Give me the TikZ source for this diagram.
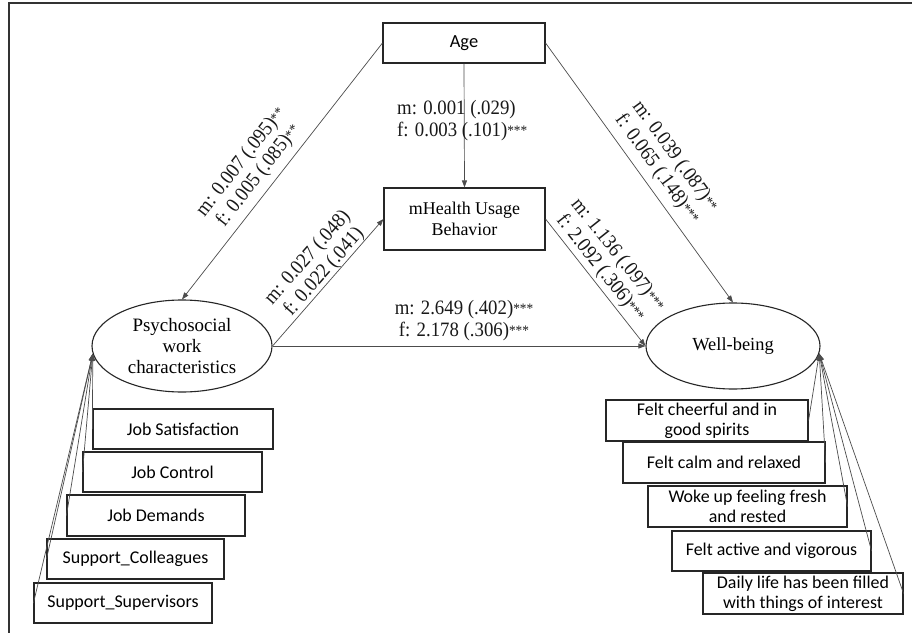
\documentclass[tikz,border=0pt]{standalone}
\usepackage{fontspec}
\setmainfont{Liberation Serif}
\newfontfamily\calfont{Carlito}
\newfontfamily\lblfont{Liberation Serif}[FakeStretch=0.92]
\usetikzlibrary{arrows.meta,shapes.geometric}
\newcommand\sig[1]{\raisebox{1bp}{\fontsize{14.5}{14.5}\selectfont #1}}
\tikzset{
  rbox/.style={draw=black!85, line width=1.1bp, inner sep=0pt, align=center},
  ind/.style={rbox, font=\calfont\fontsize{18}{20}\selectfont},
  lat/.style={ellipse, draw=black!85, line width=1.1bp, inner sep=0pt, align=center},
  conn/.style={draw=black!70, line width=0.7bp, -{Triangle[length=7bp,width=5bp]}},
  lbl/.style={font=\lblfont\fontsize{20.5}{22}\selectfont, inner sep=0pt, align=center, text=black!90},
}
\begin{document}
\begin{tikzpicture}[x=1bp,y=-1bp]
\fill[white] (0,0) rectangle (912,633);
\useasboundingbox (0,0) rectangle (912,633);
\draw[line width=1.5bp, black!80] (9,633) -- (9,3) -- (912,3);

% main nodes
\node[rbox, minimum width=162bp, minimum height=40bp, font=\calfont\fontsize{18.5}{20}\selectfont] (age) at (464,43) {Age};
\node[rbox, minimum width=161bp, minimum height=62bp, font=\fontsize{18}{20.5}\selectfont] (mh) at (464.5,219) {mHealth Usage\\Behavior};
\node[lat, minimum width=180bp, minimum height=92bp, font=\fontsize{19}{21.5}\selectfont] (psy) at (182,346) {Psychosocial\\work\\characteristics};
\node[lat, minimum width=174bp, minimum height=86bp, font=\fontsize{18.5}{20}\selectfont] (wb) at (733,346) {Well-being};

% indicators left
\node[ind, minimum width=180bp, minimum height=40bp] (jsat) at (183,429) {Job Satisfaction};
\node[ind, minimum width=179bp, minimum height=40bp] (jcon) at (172.5,472) {Job Control};
\node[ind, minimum width=178bp, minimum height=41bp] (jdem) at (156,515.5) {Job Demands};
\node[ind, minimum width=177bp, minimum height=40bp] (scol) at (135.5,559) {Support\_Colleagues};
\node[ind, minimum width=178bp, minimum height=40bp] (ssup) at (123,603) {Support\_Supervisors};

% indicators right
\node[ind, minimum width=202bp, minimum height=41bp] (fc) at (707,420.5) {Felt cheerful and in\\good spirits};
\node[ind, minimum width=202bp, minimum height=41bp] (fcalm) at (724,462.5) {Felt calm and relaxed};
\node[ind, minimum width=199bp, minimum height=41bp] (woke) at (747.5,506.5) {Woke up feeling fresh\\and rested};
\node[ind, minimum width=199bp, minimum height=40bp] (act) at (771.5,551) {Felt active and vigorous};
\node[ind, minimum width=200bp, minimum height=41bp] (daily) at (803,593.5) {Daily life has been filled\\with things of interest};

% structural paths
\draw[conn] (age.west) -- (psy.north);
\draw[conn] (age.east) -- (wb.north);
\draw[conn] (age.south) -- (mh.north);
\draw[conn] (psy.east) -- (mh.west);
\draw[conn] (mh.east) -- (wb.west);
\draw[conn] (psy.east) -- (wb.west);

% measurement paths
\foreach \n in {jsat,jcon,jdem,scol,ssup} \draw[conn] (\n.west) -- (psy.185);
\foreach \n in {fc,fcalm,woke,act,daily} \draw[conn] (\n.east) -- (wb.355);

% labels
\node[lbl, anchor=west, align=left] (lage) at (397,121) {m: 0.001 (.029)\\f: 0.003 (.101)\sig{***}};
\node[lbl, rotate=52] (lpsy) at (250,169) {m: 0.007 (.095)\sig{**}\\f: 0.005 (.085)\sig{**}};
\node[lbl, rotate=-54] (lwb) at (666,163) {m: 0.039 (.087)\sig{**}\\f: 0.065 (.148)\sig{***}};
\node[lbl, rotate=-51.5] (lmw) at (609,262) {m: 1.136 (.097)\sig{***}\\f: 2.092 (.306)\sig{***}};
\node[lbl, rotate=48.6] (lpm) at (316,265) {m: 0.027 (.048)\\f: 0.022 (.041)};
\node[lbl] (ldir) at (464,321) {m: 2.649 (.402)\sig{***}\\f: 2.178 (.306)\sig{***}};
\end{tikzpicture}
\end{document}
